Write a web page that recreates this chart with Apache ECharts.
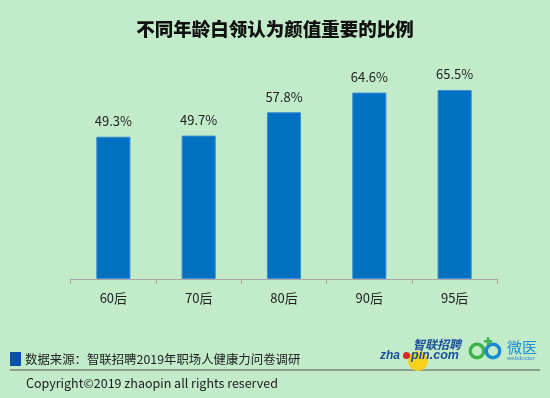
<!DOCTYPE html>
<html>
<head>
<meta charset="utf-8">
<title>不同年龄白领认为颜值重要的比例</title>
<script src="https://cdn.jsdelivr.net/npm/echarts@6/dist/echarts.min.js"></script>
<style>
  html, body { margin: 0; padding: 0; background: #c1ebc9; }
  #chart { width: 550px; height: 398px; }
</style>
</head>
<body>
<div id="chart"></div>
<script>
// 数据
var categories = ["60后", "70后", "80后", "90后", "95后"];
var values = [49.3, 49.7, 57.8, 64.6, 65.5];

var cjk = "'Noto Sans CJK SC', 'Noto Sans', sans-serif";
var latin = "'Liberation Sans', sans-serif";

var myChart = echarts.init(document.getElementById("chart"));

var option = {
  backgroundColor: "#c1ebc9",
  animation: false,
  title: {
    text: "不同年龄白领认为颜值重要的比例",
    left: "center",
    top: 15,
    textStyle: {
      fontFamily: cjk,
      fontSize: 18.5,
      fontWeight: 900,
      color: "#111",
    },
  },
  grid: {
    left: 70.7,
    right: 52.7,
    top: 77,
    bottom: 119,
  },
  xAxis: {
    type: "category",
    data: categories,
    axisLine: { lineStyle: { color: "#a8a8a8", width: 1 } },
    axisTick: {
      show: true,
      interval: 0,
      length: 5,
      lineStyle: { color: "#a8a8a8" },
    },
    axisLabel: {
      margin: 13,
      fontFamily: cjk,
      fontSize: 13,
      color: "#222",
    },
  },
  yAxis: {
    type: "value",
    min: 0,
    max: 70,
    show: false,
    splitLine: { show: false },
  },
  series: [
    {
      type: "bar",
      data: values,
      barWidth: "40%",
      itemStyle: {
        color: "#0070c0",
        borderColor: "#3d8ed2",
        borderWidth: 1,
      },
      label: {
        show: true,
        position: "top",
        distance: 9,
        formatter: "{c}%",
        fontFamily: cjk,
        fontSize: 13,
        color: "#222",
      },
    },
  ],
  graphic: [
    // 数据来源
    {
      type: "rect",
      shape: { x: 10, y: 352, width: 11, height: 14 },
      style: { fill: "#0b50a8" },
    },
    {
      type: "text",
      x: 25,
      y: 359,
      style: {
        text: "数据来源：智联招聘2019年职场人健康力问卷调研",
        fontFamily: cjk,
        fontSize: 12.4,
        fill: "#222",
        verticalAlign: "middle",
      },
    },
    {
      type: "line",
      shape: { x1: 10, y1: 370, x2: 540, y2: 370 },
      style: { stroke: "#555", lineWidth: 1 },
    },
    {
      type: "text",
      x: 26,
      y: 383,
      style: {
        text: "Copyright©2019 zhaopin all rights reserved",
        fontFamily: cjk,
        fontSize: 12.5,
        fill: "#222",
        verticalAlign: "middle",
      },
    },
    // zhaopin logo
    {
      type: "circle",
      shape: { cx: 418, cy: 361, r: 10 },
      style: { fill: "#f6d21c" },
    },
    {
      type: "text",
      x: 380,
      y: 362,
      style: {
        text: "zha",
        fontFamily: latin,
        fontSize: 12,
        fontWeight: "bold",
        fontStyle: "italic",
        fill: "#1c4f9c",
        verticalAlign: "bottom",
      },
    },
    {
      type: "circle",
      shape: { cx: 406.5, cy: 355.5, r: 3.5 },
      style: { fill: "#d8262a" },
    },
    {
      type: "text",
      x: 411,
      y: 362,
      style: {
        text: "pin.com",
        fontFamily: latin,
        fontSize: 12.5,
        fontWeight: "bold",
        fontStyle: "italic",
        fill: "#1c4f9c",
        verticalAlign: "bottom",
      },
    },
    {
      type: "text",
      x: 413,
      y: 344,
      style: {
        text: "智联招聘",
        fontFamily: cjk,
        fontSize: 12,
        fontWeight: "bold",
        fontStyle: "italic",
        fill: "#1c4f9c",
        verticalAlign: "middle",
      },
    },
    // 微医 logo
    {
      type: "ring",
      shape: { cx: 477, cy: 351, r: 8.5, r0: 5 },
      style: { fill: "#3cb44a" },
    },
    {
      type: "ring",
      shape: { cx: 493, cy: 351, r: 8.5, r0: 5 },
      style: { fill: "#1b8ad3" },
    },
    {
      type: "rect",
      shape: { x: 484, y: 340, width: 8, height: 2.5 },
      style: { fill: "#3cb44a" },
    },
    {
      type: "rect",
      shape: { x: 486.8, y: 337.2, width: 2.5, height: 8 },
      style: { fill: "#3cb44a" },
    },
    {
      type: "text",
      x: 507,
      y: 347,
      style: {
        text: "微医",
        fontFamily: cjk,
        fontSize: 15,
        fill: "#1f8fd6",
        verticalAlign: "middle",
      },
    },
    {
      type: "text",
      x: 507,
      y: 358,
      style: {
        text: "webdoctor",
        fontFamily: latin,
        fontSize: 6,
        fill: "#3a8ccc",
        verticalAlign: "middle",
      },
    },
  ],
};

myChart.setOption(option);
</script>
</body>
</html>
